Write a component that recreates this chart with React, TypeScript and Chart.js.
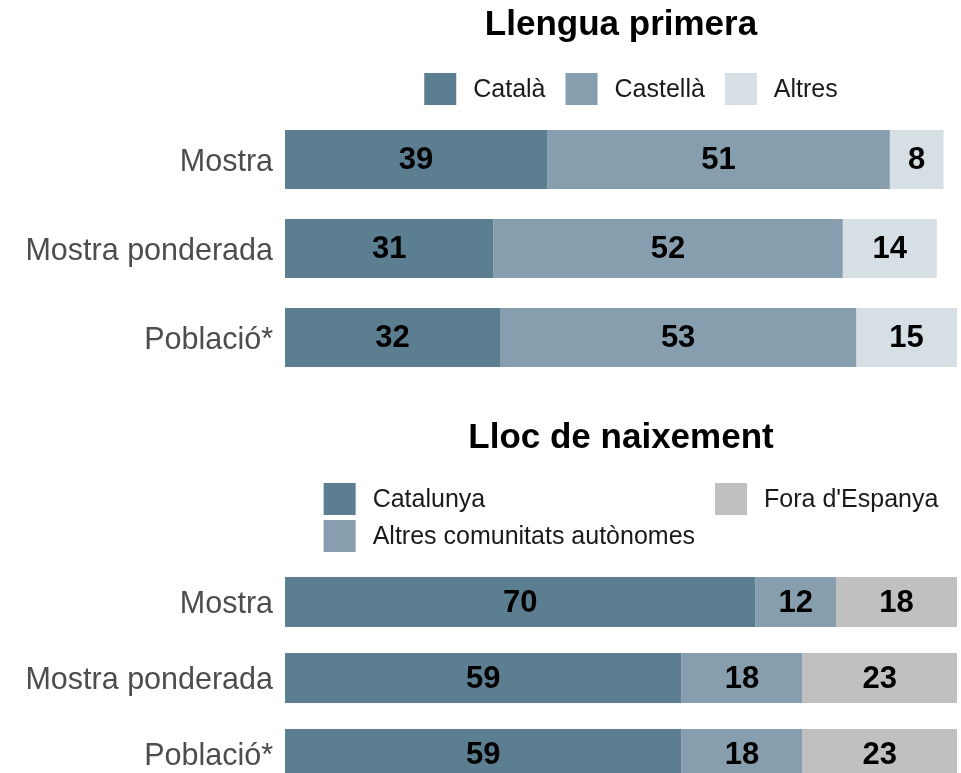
import React, { useEffect, useRef } from "react";
import { Chart, registerables } from "chart.js";

Chart.register(...registerables);

// ---- Data ----
const categories = ["Mostra", "Mostra ponderada", "Població*"];

const llenguaTitle = "Llengua primera";
const llenguaSeries = ["Català", "Castellà", "Altres"];
const catala = [39, 31, 32];
const castella = [51, 52, 53];
const altresLlengua = [8, 14, 15];

const naixementTitle = "Lloc de naixement";
const naixementSeries = ["Catalunya", "Altres comunitats autònomes", "Fora d'Espanya"];
const catalunya = [70, 59, 59];
const altresComunitats = [12, 18, 18];
const foraEspanya = [18, 23, 23];

// ---- Styles ----
const FONT = "'Liberation Sans', Arial, Helvetica, sans-serif";
const DARK = "#5c7e91";
const MID = "#869ead";
const LIGHT = "#d5dfe4";
const GREY = "#c0c0c0";

const barLabelsPlugin = {
  id: "barLabels",
  afterDatasetsDraw(chart: any) {
    const ctx = chart.ctx;
    ctx.save();
    ctx.font = `bold 31px ${FONT}`;
    ctx.fillStyle = "#000";
    ctx.textAlign = "center";
    ctx.textBaseline = "middle";
    chart.data.datasets.forEach((ds: any, i: number) => {
      const meta = chart.getDatasetMeta(i);
      meta.data.forEach((bar: any, j: number) => {
        const p = bar.getProps(["x", "y", "base"], true);
        ctx.fillText(String(ds.data[j]), (p.x + p.base) / 2, p.y + 1);
      });
    });
    ctx.restore();
  },
};

const gridLegendPlugin = {
  id: "gridLegend",
  afterDraw(chart: any, _args: any, opts: any) {
    const columns: number[][] = opts.columns;
    const top: number = opts.top;
    const ctx = chart.ctx;
    ctx.save();
    ctx.font = `25px ${FONT}`;
    const box = 32;
    const gap = 17;
    const colGap = 20;
    const rowStep = 37;
    const widths = columns.map(
      (col) =>
        box +
        gap +
        Math.max(...col.map((i) => ctx.measureText(chart.data.datasets[i].label).width))
    );
    const total = widths.reduce((a, b) => a + b, 0) + colGap * (columns.length - 1);
    const ca = chart.chartArea;
    let x = (ca.left + ca.right) / 2 + 10 - total / 2;
    columns.forEach((col, c) => {
      col.forEach((i, r) => {
        const ds = chart.data.datasets[i];
        const y = top + r * rowStep;
        ctx.fillStyle = ds.backgroundColor;
        ctx.fillRect(x, y, box, box);
        ctx.fillStyle = "#1a1a1a";
        ctx.textAlign = "left";
        ctx.textBaseline = "middle";
        ctx.fillText(ds.label, x + box + gap, y + box / 2 + 1);
      });
      x += widths[c] + colGap;
    });
    ctx.restore();
  },
};

function makeConfig(
  title: string,
  names: string[],
  values: number[][],
  colors: string[],
  barPct: number,
  legendColumns: number[][],
  legendTop: number,
  titlePad: { top: number; bottom: number },
  bottomPad: number
): any {
  return {
    type: "bar",
    data: {
      labels: categories,
      datasets: names.map((n, i) => ({
        label: n,
        data: values[i],
        backgroundColor: colors[i],
        borderWidth: 0,
        barPercentage: barPct,
        categoryPercentage: 1,
      })),
    },
    options: {
      indexAxis: "y",
      responsive: false,
      animation: false,
      layout: { padding: { left: 0, right: 4, top: 0, bottom: bottomPad } },
      scales: {
        x: { stacked: true, min: 0, max: 100, display: false },
        y: {
          stacked: true,
          grid: { display: false, drawTicks: false },
          border: { display: false },
          ticks: {
            font: { family: FONT, size: 30.5 },
            color: "#4d4d4d",
            padding: 12,
            labelOffset: 3,
          },
          afterFit: (s: any) => {
            s.width = 285;
            s.paddingTop = 0;
            s.paddingBottom = 0;
          },
        },
      },
      plugins: {
        legend: { display: false },
        tooltip: { enabled: false },
        title: {
          display: true,
          text: title,
          fullSize: false,
          color: "#000",
          font: { family: FONT, size: 35, weight: "bold" },
          padding: titlePad,
        },
        gridLegend: { columns: legendColumns, top: legendTop },
      },
    },
    plugins: [barLabelsPlugin, gridLegendPlugin],
  };
}

function ChartCanvas({ config, width, height }: { config: () => any; width: number; height: number }) {
  const ref = useRef<HTMLCanvasElement | null>(null);
  useEffect(() => {
    if (!ref.current) return;
    const chart = new Chart(ref.current, config());
    return () => chart.destroy();
  }, []);
  return <canvas ref={ref} width={width} height={height} style={{ display: "block" }} />;
}

export default function App() {
  return (
    <div style={{ position: "absolute", left: 0, top: 0, width: 961, background: "#fff" }}>
      <ChartCanvas
        width={961}
        height={395}
        config={() =>
          makeConfig(
            llenguaTitle,
            llenguaSeries,
            [catala, castella, altresLlengua],
            [DARK, MID, LIGHT],
            0.663,
            [[0], [1], [2]],
            73,
            { top: 4, bottom: 69 },
            13
          )
        }
      />
      <ChartCanvas
        width={961}
        height={405}
        config={() =>
          makeConfig(
            naixementTitle,
            naixementSeries,
            [catalunya, altresComunitats, foraEspanya],
            [DARK, MID, GREY],
            0.658,
            [[0, 1], [2]],
            88,
            { top: 22, bottom: 105 },
            8
          )
        }
      />
    </div>
  );
}
